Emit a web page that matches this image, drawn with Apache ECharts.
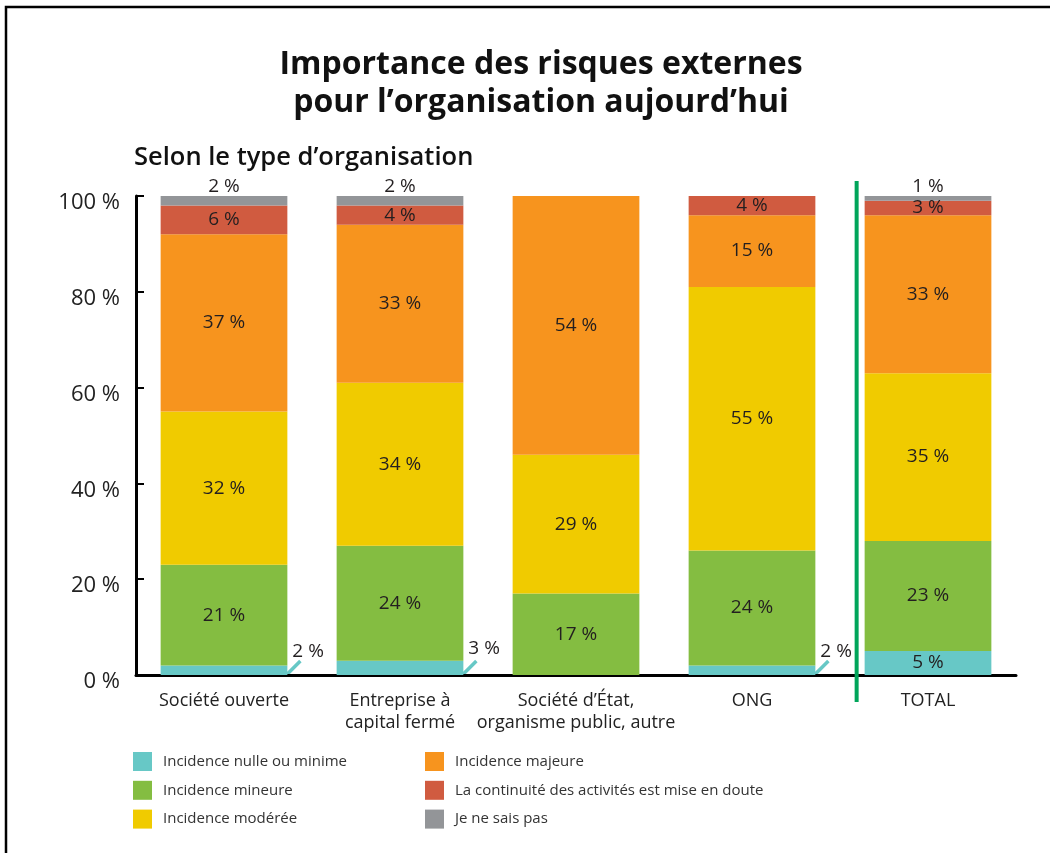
<!DOCTYPE html>
<html>
<head>
<meta charset="utf-8">
<script src="https://cdn.jsdelivr.net/npm/echarts@6/dist/echarts.min.js"></script>
<style>
  html, body { margin: 0; padding: 0; background: #fff; }
  #chart { width: 1050px; height: 853px; }
</style>
</head>
<body>
<div id="chart"></div>
<script>
// catégories (axe x)
const categories = [
  "Société ouverte",
  "Entreprise à\ncapital fermé",
  "Société d’État,\norganisme public, autre",
  "ONG",
  "TOTAL"
];
const seriesNames = [
  "Incidence nulle ou minime",
  "Incidence mineure",
  "Incidence modérée",
  "Incidence majeure",
  "La continuité des activités est mise en doute",
  "Je ne sais pas"
];
// valeurs en %
const nulle = [2, 3, 0, 2, 5];
const mineure = [21, 24, 17, 24, 23];
const moderee = [32, 34, 29, 55, 35];
const majeure = [37, 33, 54, 15, 33];
const continuite = [6, 4, 0, 4, 3];
const neSaisPas = [2, 2, 0, 0, 1];
const yTicks = [0, 20, 40, 60, 80, 100];

const colors = ["#67c8c6", "#84bd41", "#f0cb00", "#f7941e", "#d05b40", "#939598"];
const allData = [nulle, mineure, moderee, majeure, continuite, neSaisPas];

const labelText = { color: "#231f20", fontSize: 19, fontFamily: "Open Sans" };

function buildData(values, idx) {
  return values.map(function (v) {
    const item = { value: v };
    if (v === 0) {
      item.label = { show: false };
    } else if (idx === 5) {
      // petites valeurs "je ne sais pas" : au-dessus de la barre
      item.label = { position: "top", distance: 0 };
    } else if (idx === 0 && v < 4) {
      // petites valeurs nulle : à droite avec trait
      item.label = { position: "right", distance: 5, offset: [0, -19] };
    }
    return item;
  });
}

const series = allData.map(function (vals, i) {
  return {
    name: seriesNames[i],
    type: "bar",
    stack: "total",
    barWidth: "72%",
    itemStyle: { color: colors[i] },
    label: Object.assign({ show: true, position: "inside", formatter: "{c} %" }, labelText),
    emphasis: { disabled: true },
    data: buildData(vals, i)
  };
});

const legendStyle = {
  orient: "vertical",
  top: 752,
  padding: 0,
  itemWidth: 19,
  itemHeight: 19,
  itemGap: 9.8,
  icon: "rect",
  selectedMode: false,
  textStyle: { fontSize: 15, color: "#333", padding: [0, 0, 0, 6], fontFamily: "Open Sans" }
};

const chart = echarts.init(document.getElementById("chart"));
chart.setOption({
  animation: false,
  textStyle: { fontFamily: "Open Sans" },
  title: [
    {
      text: "Importance des risques externes\npour l’organisation aujourd’hui",
      left: 536,
      top: 41,
      textAlign: "center",
      textStyle: { fontSize: 32, fontWeight: "bold", color: "#111", lineHeight: 38, fontFamily: "Open Sans" }
    },
    {
      text: "Selon le type d’organisation",
      left: 129,
      top: 140,
      textStyle: { fontSize: 25.5, fontWeight: 600, color: "#111", fontFamily: "Open Sans" }
    }
  ],
  grid: { left: 136, right: 34, top: 196, bottom: 178 },
  legend: [
    Object.assign({ data: seriesNames.slice(0, 3), left: 133 }, legendStyle),
    Object.assign({ data: seriesNames.slice(3), left: 425 }, legendStyle)
  ],
  xAxis: {
    type: "category",
    data: categories,
    axisLine: { lineStyle: { color: "#000", width: 3 } },
    axisTick: { show: false },
    axisLabel: { interval: 0, color: "#222", fontSize: 18, margin: 15, lineHeight: 22, fontFamily: "Open Sans" }
  },
  yAxis: {
    type: "value",
    min: yTicks[0],
    max: yTicks[yTicks.length - 1],
    interval: yTicks[1] - yTicks[0],
    axisLine: { show: true, lineStyle: { color: "#000", width: 3 } },
    axisTick: { show: true, inside: true, length: 8, lineStyle: { color: "#000", width: 2 } },
    splitLine: { show: false },
    axisLabel: {
      formatter: "{value} %", color: "#222", fontSize: 22, margin: 16,
      verticalAlign: "top", lineHeight: 14, fontFamily: "Open Sans"
    }
  },
  series: series
});

// éléments décoratifs calculés à partir des axes
function drawExtras() {
  const p0 = chart.convertToPixel({ xAxisIndex: 0, yAxisIndex: 0 }, [0, 0]);
  const p1 = chart.convertToPixel({ xAxisIndex: 0, yAxisIndex: 0 }, [1, 0]);
  const half = (p1[0] - p0[0]) * 0.72 / 2;
  const top100 = chart.convertToPixel({ yAxisIndex: 0 }, 100);
  const graphics = [
    {
      type: "rect",
      silent: true,
      shape: { x: 6, y: 7, width: 1200, height: 1000 },
      style: { fill: "none", stroke: "#000", lineWidth: 2.5 }
    }
  ];
  nulle.forEach(function (v, i) {
    if (v > 0 && v < 4) {
      const p = chart.convertToPixel({ xAxisIndex: 0, yAxisIndex: 0 }, [i, 0]);
      const x = p[0] + half;
      graphics.push({
        type: "line",
        silent: true,
        shape: { x1: x, y1: p[1] - 1, x2: x + 13, y2: p[1] - 14 },
        style: { stroke: colors[0], lineWidth: 3.5 }
      });
    }
  });
  // séparateur vert avant TOTAL
  const pt = chart.convertToPixel({ xAxisIndex: 0, yAxisIndex: 0 }, [categories.length - 1, 0]);
  const sx = pt[0] - half - 8;
  graphics.push({
    type: "line",
    silent: true,
    z: 10,
    shape: { x1: sx, y1: top100 - 15, x2: sx, y2: pt[1] + 27 },
    style: { stroke: "#00a55a", lineWidth: 4 }
  });
  chart.setOption({ graphic: graphics });
}
drawExtras();
</script>
</body>
</html>
